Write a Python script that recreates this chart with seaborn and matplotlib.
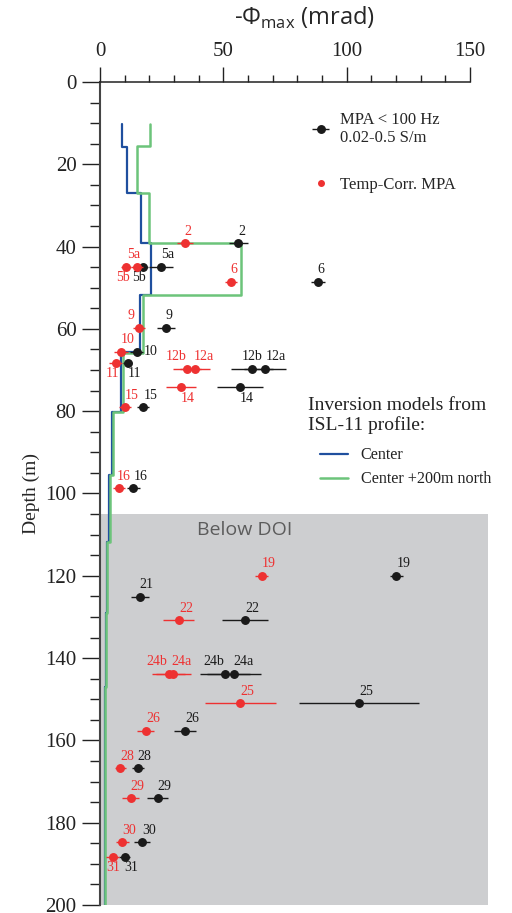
import numpy as np
import pandas as pd
import matplotlib
matplotlib.use('Agg')
import matplotlib.pyplot as plt
from matplotlib.lines import Line2D
import seaborn as sns

# MPA < 100 Hz points
mpa_labels = ['2', '5a', '5b', '6', '9', '10', '11', '12b', '12a', '14', '15', '16',
              '19', '21', '22', '24b', '24a', '25', '26', '28', '29', '30', '31']
mpa_depth = [39.2, 44.9, 44.9, 48.5, 59.7, 65.5, 68.2, 69.7, 69.7, 74.2, 79.1, 98.7,
             120.0, 125.1, 130.8, 143.8, 143.8, 151.0, 157.6, 166.8, 174.0, 184.7, 188.3]
mpa_phi = [56.1, 24.7, 17.6, 88.5, 26.8, 14.9, 11.2, 61.5, 67.0, 56.8, 17.6, 13.5,
           120.2, 16.2, 58.8, 50.7, 54.2, 105.0, 34.6, 15.4, 23.4, 17.0, 10.1]
mpa_err = [3.9, 5.0, 1.7, 2.8, 3.7, 2.7, 1.8, 8.5, 8.5, 9.2, 2.4, 2.6,
           2.7, 3.6, 9.3, 10.0, 11.0, 24.5, 4.4, 2.5, 4.3, 3.3, 2.2]

# temperature corrected MPA points
tc_labels = ['2', '5a', '5b', '6', '9', '10', '11', '12b', '12a', '14', '15', '16',
             '19', '22', '24b', '24a', '25', '26', '28', '29', '30', '31']
tc_depth = [39.2, 44.9, 44.9, 48.5, 59.7, 65.5, 68.2, 69.7, 69.7, 74.2, 79.1, 98.7,
            120.0, 130.8, 143.8, 143.8, 151.0, 157.6, 166.8, 174.0, 184.7, 188.3]
tc_phi = [34.5, 15.1, 10.5, 53.0, 15.8, 8.5, 6.3, 35.4, 38.6, 32.7, 10.1, 7.8,
          65.5, 32.0, 27.8, 29.7, 56.9, 18.6, 8.2, 12.4, 9.1, 5.1]
tc_err = [3.1, 2.5, 2.1, 2.4, 2.5, 2.8, 2.7, 5.7, 6.0, 6.1, 2.3, 2.5,
          2.6, 6.3, 6.6, 7.0, 14.3, 3.4, 2.2, 3.4, 2.8, 2.6]

# inversion models, layer boundaries (m) and layer values
center_depth = [10.2, 15.7, 26.9, 39.2, 51.8, 65.5, 80.1, 95.5, 111.7, 129.0, 147.0, 200.0]
center_phi = [9.0, 11.1, 16.5, 20.5, 16.2, 8.5, 4.8, 3.7, 2.8, 2.3, 1.9]
north_depth = [10.2, 15.5, 26.9, 39.2, 51.8, 65.8, 80.3, 95.5, 111.7, 129.0, 147.0, 200.0]
north_phi = [20.4, 14.9, 19.7, 57.2, 17.3, 9.5, 5.1, 4.0, 3.0, 2.4, 2.0]

doi_depth = 105

# label placement in pixels (dx, dy), default is above right
lbl_off_mpa = {'2': (3, -12), '5a': (7, -12), '5b': (-4, 11), '6': (3, -12), '9': (3, -12),
               '10': (14, 0), '11': (7, 11), '12b': (0, -12), '12a': (11, -12), '14': (7, 11),
               '21': (6, -12), '24b': (-11, -12), '24a': (10, -12), '28': (6, -12), '31': (6, 11)}
lbl_off_tc = {'2': (3, -12), '5a': (-4, -12), '5b': (-3, 11), '6': (3, -12), '9': (-8, -12),
              '11': (-3, 11), '12b': (-11, -12), '12a': (9, -12), '14': (7, 11), '16': (4, -12),
              '24b': (-12, -12), '24a': (8, -12), '31': (1, 11)}

red = '#ee3131'
blk = '#1a1a1a'
blue = '#1f4f9e'
green = '#6cc47a'

sns.set_theme(style='white')
plt.rcParams['font.family'] = ['Liberation Serif', 'DejaVu Serif']
plt.rcParams['mathtext.fontset'] = 'custom'
plt.rcParams['mathtext.rm'] = 'Open Sans'


def steps(bounds, vals):
    y = np.repeat(bounds, 2)[1:-1]
    x = np.repeat(vals, 2)
    return pd.DataFrame({'phi': x, 'depth': y})


fig = plt.figure(figsize=(5.12, 9.13), dpi=100)
ax = fig.add_axes([100 / 512, 8 / 913, 388 / 512, 823 / 913])

ax.axhspan(doi_depth, 200, color='#cdced0', lw=0, zorder=0)
ax.text(58.8, 108.9, 'Below DOI', family='Open Sans', fontsize=14, color='#5c5c5c',
        ha='center', va='center')

sns.lineplot(data=steps(center_depth, center_phi), x='phi', y='depth', sort=False,
             estimator=None, color=blue, lw=1.6, ax=ax, label='Center')
sns.lineplot(data=steps(north_depth, north_phi), x='phi', y='depth', sort=False,
             estimator=None, color=green, lw=1.8, ax=ax, label='Center +200m north')

eb = ax.errorbar(mpa_phi, mpa_depth, xerr=mpa_err, fmt='o', color=blk, ms=5.4,
                 elinewidth=1.0, capsize=0, zorder=4)
ax.errorbar(tc_phi, tc_depth, xerr=tc_err, fmt='o', color=red, ms=5.4,
            elinewidth=1.0, capsize=0, zorder=5)

for lab, x, y in zip(mpa_labels, mpa_phi, mpa_depth):
    dx, dy = lbl_off_mpa.get(lab, (7, -12))
    ax.annotate(lab, (x, y), xytext=(dx, -dy), textcoords='offset pixels',
                ha='center', va='center', fontsize=10, color=blk)
for lab, x, y in zip(tc_labels, tc_phi, tc_depth):
    dx, dy = lbl_off_tc.get(lab, (7, -12))
    ax.annotate(lab, (x, y), xytext=(dx, -dy), textcoords='offset pixels',
                ha='center', va='center', fontsize=10, color=red)

ax.set_xlim(0, 157.3)
ax.set_ylim(200, 0)
ax.xaxis.tick_top()
ax.xaxis.set_label_position('top')
ax.set_xticks([0, 50, 100, 150])
ax.set_xticks(np.arange(0, 151, 10), minor=True)
ax.set_yticks(np.arange(0, 201, 20))
ax.set_yticks(np.arange(0, 201, 5), minor=True)
ax.tick_params(axis='x', which='major', direction='out', length=11, width=1.0,
               labelsize=15, pad=4, colors='#222222')
ax.tick_params(axis='x', which='minor', direction='out', length=5, width=1.0, colors='#222222')
ax.tick_params(axis='y', which='major', direction='out', length=13, width=1.0,
               labelsize=15, pad=4, colors='#222222')
ax.tick_params(axis='y', which='minor', direction='out', length=7, width=1.0, colors='#222222')
ax.tick_params(which='both', bottom=False, right=False, top=True, left=True)

for s in ['right', 'bottom']:
    ax.spines[s].set_visible(False)
ax.spines['top'].set_bounds(0, 150)
ax.spines['top'].set_linewidth(1.1)
ax.spines['left'].set_linewidth(1.5)
ax.spines['top'].set_color('#222222')
ax.spines['left'].set_color('#444444')

ax.set_xlabel('-Φ$_{\\mathrm{max}}$ (mrad)', family='Open Sans', fontsize=17)
ax.xaxis.set_label_coords(0.528, 1.062)
ax.xaxis.label.set_va('bottom')
ax.set_ylabel('Depth (m)', fontsize=14, labelpad=4)

# legends
h_tc = Line2D([], [], marker='o', ls='none', color=red, ms=4)
leg1 = ax.legend([eb, h_tc], ['MPA < 100 Hz\n0.02-0.5 S/m', 'Temp-Corr. MPA'],
                 loc='upper left', bbox_to_anchor=(298 / 512, 1 - 97 / 913),
                 bbox_transform=fig.transFigure, frameon=False, fontsize=12,
                 handlelength=0.9, handletextpad=0.7, labelspacing=1.85)
ax.add_artist(leg1)

fig.text(308 / 512, 1 - 397 / 913, 'Inversion models from\nISL-11 profile:', fontsize=14,
         ha='left', va='top', color='#222222', linespacing=1.15)
handles, labels = ax.get_legend_handles_labels()
lines = [h for h, l in zip(handles, labels) if l.startswith('Center')]
leg2 = ax.legend(lines, ['Center', 'Center +200m north'], loc='upper left',
                 bbox_to_anchor=(309 / 512, 1 - 436 / 913), bbox_transform=fig.transFigure,
                 frameon=False, fontsize=11.6, handlelength=1.75, handletextpad=0.75,
                 labelspacing=0.5, borderpad=0.2)
for t in leg2.get_texts():
    t.set_color('#222222')

fig.savefig('out.png', dpi=100)
